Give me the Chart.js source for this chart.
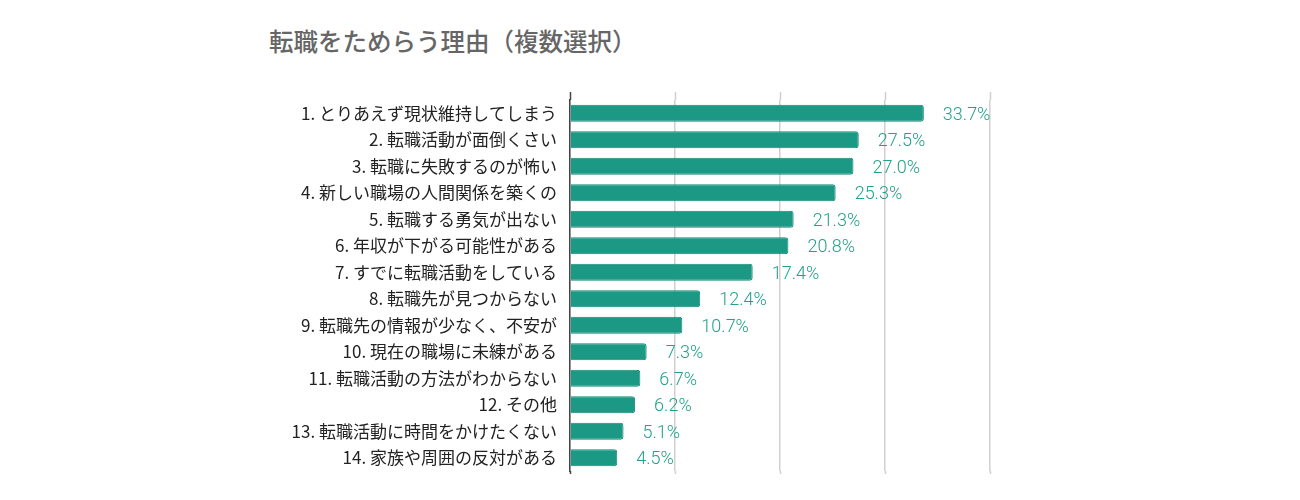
<!DOCTYPE html>
<html lang="ja">
<head>
<meta charset="utf-8">
<script src="https://cdn.jsdelivr.net/npm/chart.js@4"></script>
<style>
  html, body { margin: 0; padding: 0; background: #fff; }
  #wrap { position: relative; width: 1300px; height: 500px; }
  #title {
    position: absolute; left: 269px; top: 25px;
    font-family: "Noto Sans CJK JP", sans-serif; font-size: 24.5px; font-weight: 500;
    color: #666; line-height: 32px;
  }
  #chartBox { position: absolute; left: 0; top: 0; width: 1300px; height: 500px; }
</style>
</head>
<body>
<div id="wrap">
  <div id="title">転職をためらう理由（複数選択）</div>
  <div id="chartBox"><canvas id="reasonChart"></canvas></div>
</div>
<script>
const reasons = [
  '1. とりあえず現状維持してしまう',
  '2. 転職活動が面倒くさい',
  '3. 転職に失敗するのが怖い',
  '4. 新しい職場の人間関係を築くの',
  '5. 転職する勇気が出ない',
  '6. 年収が下がる可能性がある',
  '7. すでに転職活動をしている',
  '8. 転職先が見つからない',
  '9. 転職先の情報が少なく、不安が',
  '10. 現在の職場に未練がある',
  '11. 転職活動の方法がわからない',
  '12. その他',
  '13. 転職活動に時間をかけたくない',
  '14. 家族や周囲の反対がある'
];
const percents = [33.7, 27.5, 27.0, 25.3, 21.3, 20.8, 17.4, 12.4, 10.7, 7.3, 6.7, 6.2, 5.1, 4.5];
const gridTicks = [0, 10, 20, 30, 40];

// gridlines and the left axis stick out a little past the bar area
const gridOverhang = {
  id: 'gridOverhang',
  beforeDatasetsDraw(chart) {
    const ctx = chart.ctx;
    const x = chart.scales.x;
    const a = chart.chartArea;
    ctx.save();
    gridTicks.forEach(v => {
      const px = Math.round(x.getPixelForValue(v)) + 0.5;
      ctx.strokeStyle = v === 0 ? '#444' : '#d0d0d0';
      ctx.lineWidth = 1.5;
      ctx.beginPath();
      ctx.moveTo(px, a.top - 8);
      ctx.lineTo(px, a.top);
      ctx.moveTo(px, a.bottom);
      ctx.lineTo(px, a.bottom + 3);
      ctx.stroke();
    });
    ctx.restore();
  }
};

// draws "xx.x%" to the right of each bar
const valueLabels = {
  id: 'valueLabels',
  afterDatasetsDraw(chart) {
    const ctx = chart.ctx;
    const meta = chart.getDatasetMeta(0);
    ctx.save();
    ctx.font = '300 18px Roboto, sans-serif';
    ctx.fillStyle = '#23a08b';
    ctx.textBaseline = 'middle';
    ctx.textAlign = 'left';
    meta.data.forEach((bar, i) => {
      ctx.fillText(percents[i].toFixed(1) + '%', bar.x + 19, bar.y + 2);
    });
    ctx.restore();
  }
};

new Chart(document.getElementById('reasonChart'), {
  type: 'bar',
  data: {
    labels: reasons,
    datasets: [{
      data: percents,
      backgroundColor: '#1b9985',
      borderColor: '#148a77',
      borderWidth: 1,
      borderRadius: 3,
      borderSkipped: 'start',
      barPercentage: 0.65,
      categoryPercentage: 1
    }]
  },
  options: {
    indexAxis: 'y',
    responsive: true,
    maintainAspectRatio: false,
    animation: false,
    layout: { padding: { left: 0, right: 310, top: 100, bottom: 29 } },
    plugins: {
      legend: { display: false },
      tooltip: { enabled: false }
    },
    scales: {
      x: {
        min: 0,
        max: 40,
        afterBuildTicks(axis) { axis.ticks = gridTicks.map(v => ({ value: v })); },
        ticks: { display: false },
        grid: { color: '#d0d0d0', lineWidth: 1.5, drawTicks: false },
        border: { display: false }
      },
      y: {
        afterFit(axis) { axis.width = 570; },
        ticks: {
          color: '#222',
          font: { family: '"Noto Sans CJK JP", sans-serif', size: 17 },
          padding: 5
        },
        grid: { display: false },
        border: { display: true, color: '#444', width: 1.5 }
      }
    }
  },
  plugins: [gridOverhang, valueLabels]
});
</script>
</body>
</html>
